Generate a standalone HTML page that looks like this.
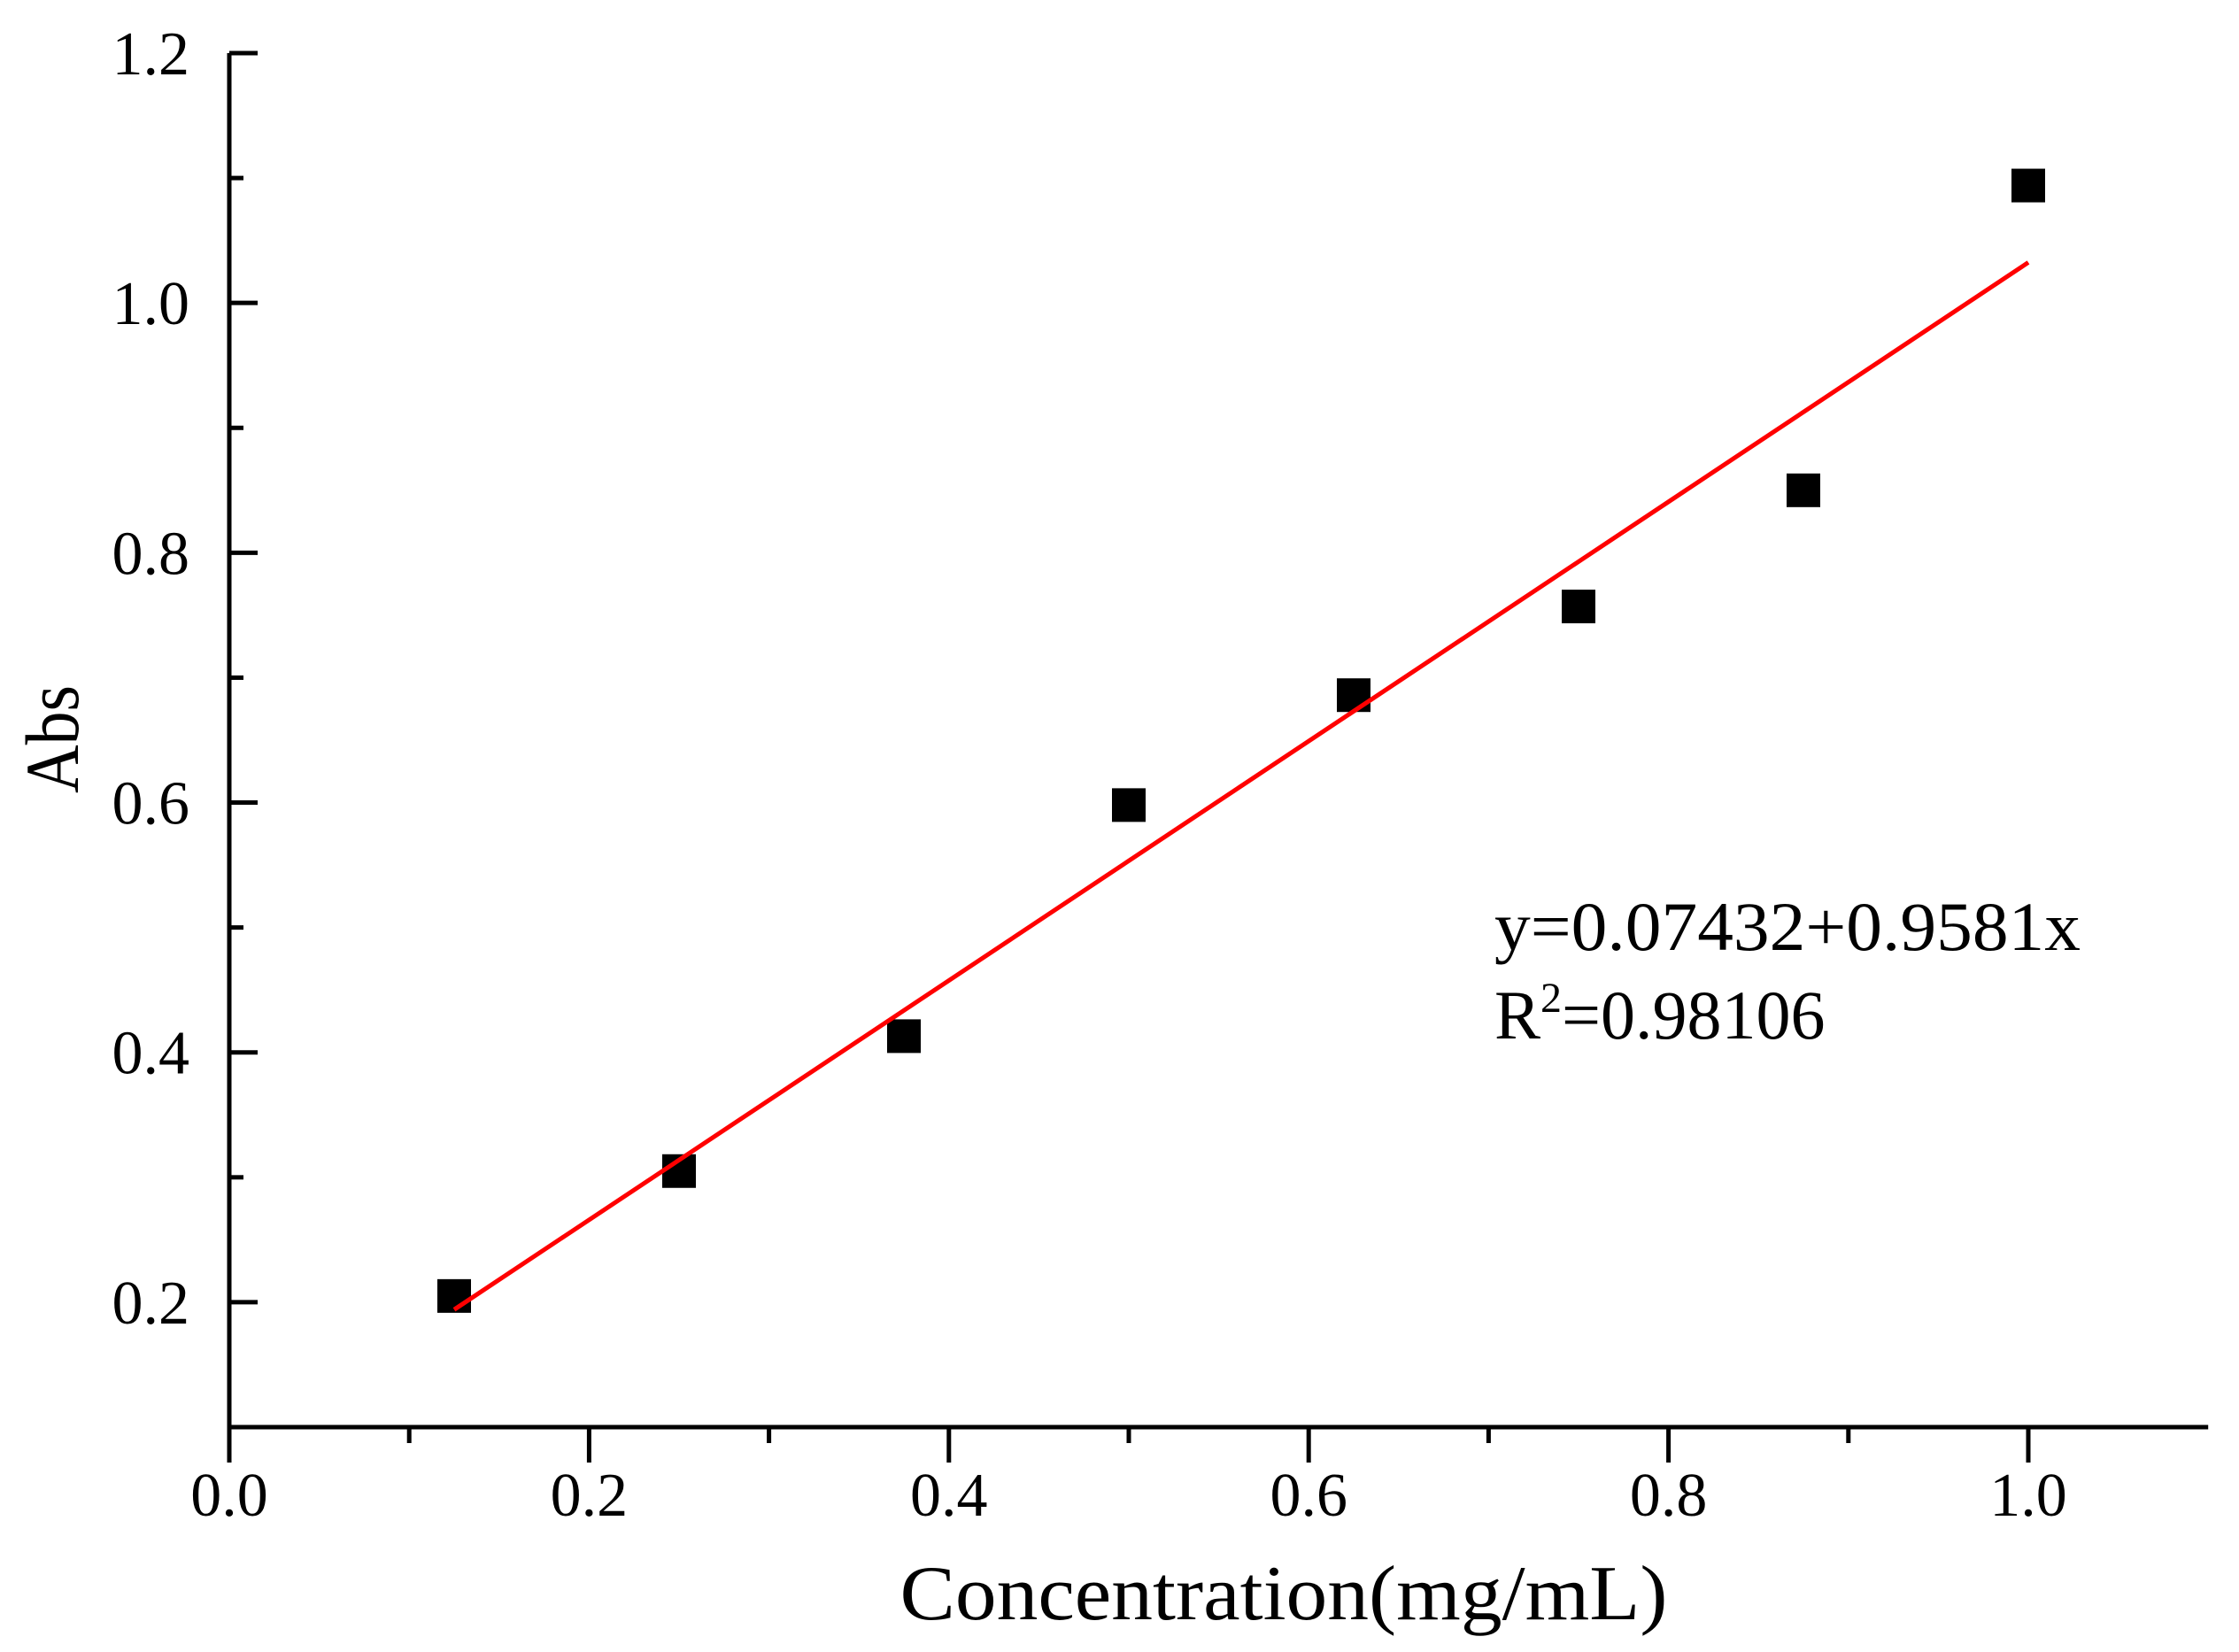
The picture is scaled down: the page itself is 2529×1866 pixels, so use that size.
<!DOCTYPE html>
<html><head><meta charset="utf-8"><style>
html,body{margin:0;padding:0;background:#fff;}
svg{display:block;font-family:"Liberation Serif",serif;}
</style></head><body>
<svg id="chart" width="2529" height="1866" viewBox="0 0 2529 1866" xmlns="http://www.w3.org/2000/svg">
<rect width="2529" height="1866" fill="#fff"/>
<g id="axes"></g>
<g id="marks"></g>
<text x="1450" y="1829" font-size="88" text-anchor="middle" textLength="867" lengthAdjust="spacingAndGlyphs">Concentration(mg/mL)</text>
<text transform="translate(88,835) rotate(-90)" font-size="86" text-anchor="middle" textLength="122" lengthAdjust="spacingAndGlyphs">Abs</text>
<text x="1688" y="1073" font-size="78" textLength="662" lengthAdjust="spacingAndGlyphs">y=0.07432+0.9581x</text>
<text x="1688" y="1173" font-size="78">R<tspan font-size="48" dy="-30">2</tspan><tspan dy="30">=0.98106</tspan></text>
</svg>
<script>
const xs = [0.125, 0.25, 0.375, 0.5, 0.625, 0.75, 0.875, 1.0];
const ys = [0.205, 0.305, 0.413, 0.598, 0.686, 0.757, 0.850, 1.094];
const fitIntercept = 0.07432;
const fitSlope = 0.9581;
const xTickValues = [0, 0.2, 0.4, 0.6, 0.8, 1.0];
const xTickLabels = ["0.0","0.2","0.4","0.6","0.8","1.0"];
const yTickValues = [0.2, 0.4, 0.6, 0.8, 1.0, 1.2];
const yTickLabels = ["0.2","0.4","0.6","0.8","1.0","1.2"];
const xMinorValues = [0.1, 0.3, 0.5, 0.7, 0.9];
const yMinorValues = [0.3, 0.5, 0.7, 0.9, 1.1];

const X0 = 259, X1 = 2291; // 0 -> 1.0
const Y0 = 1612, Y1 = 60;  // 0.1 -> 1.2
const sx = v => X0 + (X1 - X0) * v;
const sy = v => Y0 + (Y1 - Y0) * (v - 0.1) / 1.1;
const NS = "http://www.w3.org/2000/svg";
function mk(tag, attrs, parent){ const e=document.createElementNS(NS,tag); for(const k in attrs) e.setAttribute(k,attrs[k]); parent.appendChild(e); return e; }
const axes = document.getElementById('axes');
const marks = document.getElementById('marks');

let e = mk('line',{x1:X0,y1:Y1,x2:X0,y2:Y0+40,stroke:'#000','stroke-width':5},axes);


e = mk('line',{x1:X0-2,y1:Y0,x2:sx(1.1),y2:Y0,stroke:'#000','stroke-width':5},axes);



xTickValues.forEach((v,i)=>{
  const t = mk('line',{x1:sx(v),y1:Y0,x2:sx(v),y2:Y0+40,stroke:'#000','stroke-width':5},axes);
  
  
  const l = mk('text',{x:sx(v),y:1712,'font-size':70,'text-anchor':'middle'},axes);
  l.textContent = xTickLabels[i];
  
  
});
xMinorValues.forEach(v=>{
  const t = mk('line',{x1:sx(v),y1:Y0,x2:sx(v),y2:Y0+18,stroke:'#000','stroke-width':5},axes);
  
  
});
yTickValues.forEach((v,i)=>{
  const t = mk('line',{x1:X0,y1:sy(v),x2:X0+32,y2:sy(v),stroke:'#000','stroke-width':5},axes);
  
  
  const l = mk('text',{x:214,y:sy(v)+24,'font-size':70,'text-anchor':'end'},axes);
  l.textContent = yTickLabels[i];
  
  
});
yMinorValues.forEach(v=>{
  const t = mk('line',{x1:X0,y1:sy(v),x2:X0+16,y2:sy(v),stroke:'#000','stroke-width':5},axes);
  
  
});

xs.forEach((x,i)=>{
  const r = mk('rect',{x:sx(x)-19,y:sy(ys[i])-19,width:38,height:38,fill:'#000'},marks);
  
  
});
const fx0 = xs[0], fx1 = xs[xs.length-1];
const fl = mk('line',{x1:sx(fx0),y1:sy(fitIntercept+fitSlope*fx0),x2:sx(fx1),y2:sy(fitIntercept+fitSlope*fx1),stroke:'#ff0000','stroke-width':5},marks);


</script>
</body></html>
